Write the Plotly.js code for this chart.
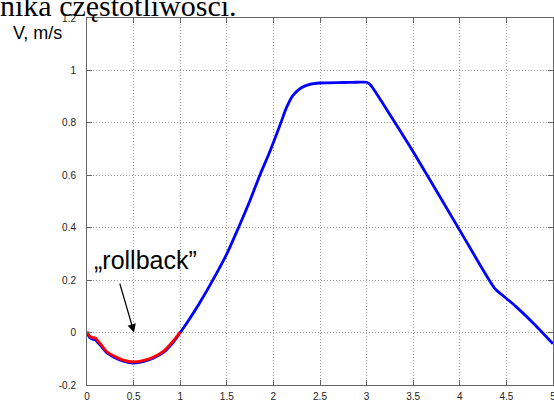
<!DOCTYPE html>
<html>
<head>
<meta charset="utf-8">
<script src="https://cdn.plot.ly/plotly-3.0.1.min.js"></script>
<style>
  html, body { margin: 0; padding: 0; background: #fff; }
  #chart { width: 554px; height: 416px; }
</style>
</head>
<body>
<div id="chart"></div>
<script>
// Speed profile V(t): full run (blue) and the initial rollback phase (red)
const tFull = [0, 0.03, 0.06, 0.09, 0.12, 0.16, 0.21, 0.29, 0.39, 0.5, 0.61, 0.71, 0.82, 0.93, 1.0,
  1.1, 1.2, 1.35, 1.5, 1.625, 1.75, 1.86, 1.95, 2.0, 2.08, 2.14, 2.21, 2.3, 2.39, 2.5,
  2.75, 2.9, 3.0, 3.04, 3.1, 3.2, 3.5, 4.0, 4.376, 4.45, 4.6, 4.8, 5.0];
const vFull = [0, -0.02, -0.025, -0.028, -0.04, -0.055, -0.076, -0.094, -0.109, -0.116, -0.11, -0.098, -0.076, -0.035, 0,
  0.052, 0.108, 0.2, 0.3, 0.4, 0.505, 0.605, 0.68, 0.725, 0.8, 0.858, 0.905, 0.934, 0.947, 0.952,
  0.954, 0.955, 0.955, 0.945, 0.915, 0.86, 0.69, 0.39, 0.168, 0.145, 0.1, 0.032, -0.043];

const tRoll = [0, 0.03, 0.06, 0.09, 0.12, 0.16, 0.21, 0.29, 0.39, 0.5, 0.61, 0.71, 0.82, 0.93, 1.0];
const vRoll = [0.004, -0.014, -0.019, -0.021, -0.033, -0.05, -0.072, -0.089, -0.105, -0.112, -0.106, -0.094, -0.072, -0.03, 0.002];

const xTicks = [0, 0.5, 1, 1.5, 2, 2.5, 3, 3.5, 4, 4.5, 5];
const yTicks = [-0.2, 0, 0.2, 0.4, 0.6, 0.8, 1, 1.2];

const sans = 'Arial, "Liberation Sans", sans-serif';
const axisCommon = {
  showline: true, linecolor: '#666', linewidth: 1, mirror: 'ticks',
  ticks: 'inside', ticklen: 5, tickcolor: '#666', tickwidth: 1,
  showgrid: true, gridcolor: '#999999', griddash: '1px,2px', gridwidth: 1,
  zeroline: false, tickfont: {family: sans, size: 10, color: '#222'},
  ticklabeloverflow: 'allow', fixedrange: true
};

const traces = [
  {x: tFull, y: vFull, mode: 'lines', line: {color: '#0000ff', width: 2.8, shape: 'spline', smoothing: 0.7}, hoverinfo: 'skip'},
  {x: tRoll, y: vRoll, mode: 'lines', line: {color: '#ff0000', width: 2.8, shape: 'spline', smoothing: 0.7}, hoverinfo: 'skip'}
];

const layout = {
  width: 554, height: 416,
  margin: {l: 87, r: 1, t: 18, b: 31},
  paper_bgcolor: '#fff', plot_bgcolor: '#fff',
  showlegend: false,
  xaxis: Object.assign({}, axisCommon, {
    range: [0, 5], tickmode: 'array', tickvals: xTicks, ticktext: xTicks.map(String),
    ticklabelstandoff: 2
  }),
  yaxis: Object.assign({}, axisCommon, {
    range: [-0.2, 1.2], tickmode: 'array', tickvals: yTicks, ticktext: yTicks.map(String),
    ticklabelstandoff: 8
  }),
  annotations: [
    {text: 'nika częstotliwości.', xref: 'paper', yref: 'paper', x: -0.19, y: 1.035,
     xanchor: 'left', yanchor: 'middle', showarrow: false,
     font: {family: '"Liberation Serif", "Times New Roman", serif', size: 30, color: '#000'}},
    {text: 'V, m/s', xref: 'paper', yref: 'paper', x: -0.106, y: 0.96,
     xanchor: 'center', yanchor: 'middle', showarrow: false,
     font: {family: sans, size: 18, color: '#000'}},
    {text: 't, s', xref: 'paper', yref: 'paper', x: 0.95, y: -0.085,
     xanchor: 'left', yanchor: 'top', showarrow: false,
     font: {family: sans, size: 18, color: '#000'}},
    {text: '„rollback”', xref: 'x', yref: 'y', x: 0.63, y: 0.275,
     xanchor: 'center', yanchor: 'middle', showarrow: false,
     font: {family: sans, size: 25, color: '#000'}},
    {text: '', xref: 'x', yref: 'y', x: 0.505, y: 0.0, axref: 'x', ayref: 'y', ax: 0.347, ay: 0.193,
     showarrow: true, arrowhead: 2, arrowsize: 1.4, arrowwidth: 1.2, arrowcolor: '#000', standoff: 0}
  ]
};

Plotly.newPlot('chart', traces, layout, {displayModeBar: false, staticPlot: true});
</script>
</body>
</html>
